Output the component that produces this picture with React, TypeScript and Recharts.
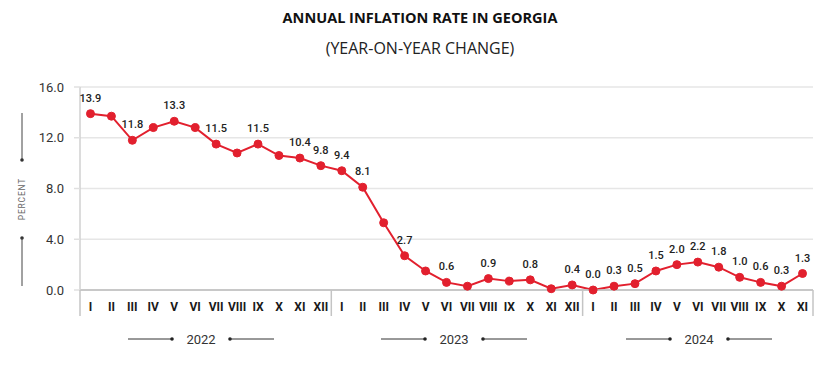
import React from 'react';
import { LineChart, Line, XAxis, YAxis, CartesianGrid, LabelList } from 'recharts';

const months = ['I', 'II', 'III', 'IV', 'V', 'VI', 'VII', 'VIII', 'IX', 'X', 'XI', 'XII'];
const years = ['2022', '2023', '2024'];
const monthsPerYear = [12, 12, 11];

const inflation2022 = [13.9, 13.7, 11.8, 12.8, 13.3, 12.8, 11.5, 10.8, 11.5, 10.6, 10.4, 9.8];
const inflation2023 = [9.4, 8.1, 5.3, 2.7, 1.5, 0.6, 0.3, 0.9, 0.7, 0.8, 0.1, 0.4];
const inflation2024 = [0.0, 0.3, 0.5, 1.5, 2.0, 2.2, 1.8, 1.0, 0.6, 0.3, 1.3];

// which points carry a value label
const labels2022 = [1, 0, 1, 0, 1, 0, 1, 0, 1, 0, 1, 1];
const labels2023 = [1, 1, 0, 1, 0, 1, 0, 1, 0, 1, 0, 1];
const labels2024 = [1, 1, 1, 1, 1, 1, 1, 1, 1, 1, 1];

const yTicks = [0, 4, 8, 12, 16];

const RED = '#e2202e';
const W = 840;
const H = 375;
const PLOT_LEFT = 80;
const PLOT_RIGHT = 813;
const PLOT_TOP = 87;
const PLOT_BOTTOM = 290;

const seriesByYear = [inflation2022, inflation2023, inflation2024];
const labelsByYear = [labels2022, labels2023, labels2024];

const data = years.flatMap((year, yi) =>
  months.slice(0, monthsPerYear[yi]).map((m, mi) => ({
    key: `${year}-${m}`,
    month: m,
    monthIndex: mi,
    yearIndex: yi,
    value: seriesByYear[yi][mi],
    showLabel: labelsByYear[yi][mi] === 1,
  }))
);

const band = (PLOT_RIGHT - PLOT_LEFT) / data.length;

const MonthTick = (props: any) => {
  const { x, y, payload } = props;
  const item = data.find((d) => d.key === payload.value);
  if (!item) return null;
  const isLast = item.key === data[data.length - 1].key;
  return (
    <g>
      {item.monthIndex === 0 && (
        <line x1={x - band / 2} x2={x - band / 2} y1={y} y2={y + 26} stroke="#c4c4c4" strokeWidth={1.5} />
      )}
      {isLast && (
        <line x1={x + band / 2} x2={x + band / 2} y1={y} y2={y + 26} stroke="#c4c4c4" strokeWidth={1.5} />
      )}
      <text
        x={x}
        y={y + 21}
        textAnchor="middle"
        fontFamily="Roboto"
        fontWeight={700}
        fontSize={12}
        fill="#1a1a1a"
      >
        {item.month}
      </text>
    </g>
  );
};

const PointLabel = (props: any) => {
  const { x, y, index, value } = props;
  if (!data[index] || !data[index].showLabel) return null;
  return (
    <text
      x={x}
      y={y - 12}
      textAnchor="middle"
      fontFamily="Roboto"
      fontWeight={500}
      fontSize={11}
      fill="#222"
    >
      {Number(value).toFixed(1)}
    </text>
  );
};

const yearCenters = [201, 454, 699];

const Overlay = () => (
  <svg width={W} height={H} style={{ position: 'absolute', left: 0, top: 0, pointerEvents: 'none' }}>
    {/* vertical PERCENT label */}
    <line x1={22} x2={22} y1={113} y2={160} stroke="#444" strokeWidth={1} />
    <circle cx={22} cy={160} r={1.8} fill="#333" />
    <circle cx={22} cy={238} r={1.8} fill="#333" />
    <line x1={22} x2={22} y1={238} y2={286} stroke="#444" strokeWidth={1} />
    <text
      x={22}
      y={199}
      transform="rotate(-90 22 199)"
      textAnchor="middle"
      dominantBaseline="central"
      fontFamily="Roboto"
      fontSize={8.5}
      letterSpacing={0.8}
      fill="#666"
    >
      PERCENT
    </text>
    {years.map((yr, i) => {
      const cx = yearCenters[i];
      return (
        <g key={yr}>
          <line x1={cx - 73} x2={cx - 29} y1={339} y2={339} stroke="#333" strokeWidth={1} />
          <circle cx={cx - 29} cy={339} r={1.8} fill="#222" />
          <circle cx={cx + 29} cy={339} r={1.8} fill="#222" />
          <line x1={cx + 29} x2={cx + 73} y1={339} y2={339} stroke="#333" strokeWidth={1} />
          <text x={cx} y={339} textAnchor="middle" dominantBaseline="central" fontFamily="Roboto" fontSize={13} fill="#333">
            {yr}
          </text>
        </g>
      );
    })}
  </svg>
);

export default function App() {
  return (
    <div style={{ position: 'absolute', left: 0, top: 0, width: W, height: H, background: '#fff', overflow: 'hidden' }}>
      <div
        style={{
          position: 'absolute',
          top: 8,
          left: 0,
          width: W,
          textAlign: 'center',
          fontFamily: 'Open Sans',
          fontWeight: 700,
          fontSize: 14.5,
          lineHeight: '20px',
          color: '#111',
        }}
      >
        ANNUAL INFLATION RATE IN GEORGIA
      </div>
      <div
        style={{
          position: 'absolute',
          top: 37,
          left: 0,
          width: W,
          textAlign: 'center',
          fontFamily: 'Open Sans',
          fontSize: 16,
          lineHeight: '22px',
          color: '#222',
        }}
      >
        (YEAR-ON-YEAR CHANGE)
      </div>
      <div style={{ position: 'absolute', left: 0, top: 0 }}>
        <LineChart
          width={W}
          height={H}
          data={data}
          margin={{ top: PLOT_TOP, right: W - PLOT_RIGHT, bottom: H - PLOT_BOTTOM - 30, left: 20 }}
        >
          <CartesianGrid vertical={false} stroke="#e6e6e6" strokeWidth={1.5} />
          <XAxis
            dataKey="key"
            interval={0}
            height={30}
            padding={{ left: band / 2, right: band / 2 }}
            tickLine={false}
            tickSize={0}
            tickMargin={0}
            axisLine={{ stroke: '#bdbdbd', strokeWidth: 1.5 }}
            tick={<MonthTick />}
          />
          <YAxis
            width={PLOT_LEFT - 20}
            domain={[0, 16]}
            ticks={yTicks}
            tickFormatter={(v: number) => v.toFixed(1)}
            tickSize={6}
            tickMargin={10}
            tickLine={{ stroke: '#e0e0e0', strokeWidth: 1.5 }}
            axisLine={{ stroke: '#d0d0d0', strokeWidth: 1.5 }}
            tick={{ fontFamily: 'Roboto', fontSize: 13, fill: '#333' }}
          />
          <Line
            type="linear"
            dataKey="value"
            stroke={RED}
            strokeWidth={2}
            dot={{ r: 4, fill: RED, stroke: RED, strokeWidth: 1 }}
            activeDot={false}
            isAnimationActive={false}
          >
            <LabelList dataKey="value" content={<PointLabel />} />
          </Line>
        </LineChart>
      </div>
      <Overlay />
    </div>
  );
}
